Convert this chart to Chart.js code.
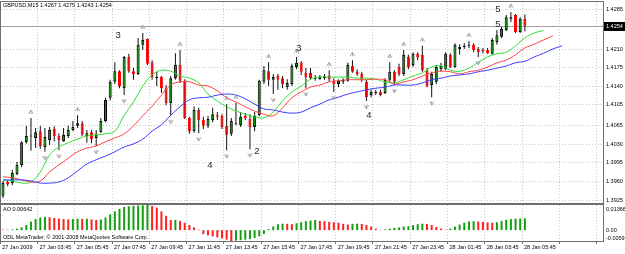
<!DOCTYPE html>
<html>
<head>
<meta charset="utf-8">
<script src="https://cdn.jsdelivr.net/npm/chart.js@4/dist/chart.umd.min.js"></script>
<style>
  html, body { margin: 0; padding: 0; background: #fff; }
  #wrap { position: relative; width: 625px; height: 254px; overflow: hidden; font-family: 'Liberation Sans', Arial, sans-serif; }
  canvas { position: absolute; left: 0; }
  #main { top: 0; }
  #ao { top: 204px; }
  .txt { position: absolute; font-size: 5.5px; line-height: 1; color: #000; white-space: nowrap; z-index: 2; }
</style>
</head>
<body>
<div id="wrap">
  <canvas id="main" width="625" height="204"></canvas>
  <canvas id="ao" width="625" height="50"></canvas>
  <div class="txt" id="title" style="left:3px;top:3px"></div>
  <div class="txt" id="aoLabel" style="left:3px;top:207px"></div>
  <div class="txt" style="left:3px;top:235px">ODL MetaTrader, © 2001-2008 MetaQuotes Software Corp.</div>
</div>
<script>
// GBPUSD M15, 113 bars
const open = [1.3933,1.3959,1.3957,1.3974,1.3991,1.4034,1.4045,1.4042,1.4055,1.4025,
  1.4038,1.4059,1.4046,1.4036,1.4046,1.4057,1.4065,1.4070,1.4046,1.4053,
  1.4042,1.4053,1.4074,1.4118,1.4148,1.4168,1.4136,1.4195,1.4168,1.4163,
  1.4218,1.4229,1.4185,1.4155,1.4157,1.4136,1.4108,1.4155,1.4180,1.4150,
  1.4080,1.4055,1.4095,1.4076,1.4065,1.4076,1.4085,1.4084,1.4065,1.4050,
  1.4068,1.4066,1.4084,1.4078,1.4063,1.4085,1.4148,1.4168,1.4152,1.4159,
  1.4155,1.4138,1.4144,1.4176,1.4184,1.4165,1.4165,1.4153,1.4153,1.4155,
  1.4159,1.4150,1.4144,1.4148,1.4150,1.4178,1.4167,1.4163,1.4148,1.4123,
  1.4127,1.4129,1.4127,1.4152,1.4167,1.4176,1.4163,1.4195,1.4180,1.4201,
  1.4199,1.4170,1.4142,1.4148,1.4172,1.4172,1.4199,1.4176,1.4210,1.4214,
  1.4216,1.4218,1.4210,1.4208,1.4208,1.4201,1.4223,1.4233,1.4246,1.4267,
  1.4274,1.4242,1.4267];
const high = [1.3961,1.3963,1.3982,1.3997,1.4036,1.4065,1.4080,1.4061,1.4065,1.4061,
  1.4063,1.4064,1.4051,1.4061,1.4065,1.4074,1.4085,1.4074,1.4057,1.4057,
  1.4057,1.4080,1.4118,1.4152,1.4185,1.4170,1.4197,1.4201,1.4174,1.4231,
  1.4240,1.4230,1.4189,1.4167,1.4159,1.4142,1.4159,1.4202,1.4208,1.4153,
  1.4082,1.4102,1.4099,1.4082,1.4084,1.4099,1.4091,1.4087,1.4106,1.4080,
  1.4108,1.4091,1.4089,1.4087,1.4091,1.4152,1.4178,1.4185,1.4163,1.4163,
  1.4159,1.4153,1.4182,1.4195,1.4187,1.4174,1.4174,1.4161,1.4161,1.4163,
  1.4170,1.4155,1.4153,1.4155,1.4184,1.4189,1.4172,1.4167,1.4152,1.4133,
  1.4133,1.4133,1.4155,1.4185,1.4170,1.4182,1.4208,1.4199,1.4204,1.4204,
  1.4216,1.4174,1.4167,1.4180,1.4184,1.4204,1.4202,1.4221,1.4219,1.4221,
  1.4225,1.4221,1.4214,1.4212,1.4212,1.4231,1.4246,1.4252,1.4274,1.4280,
  1.4276,1.4270,1.4275];
const low = [1.3929,1.3951,1.3953,1.3972,1.3987,1.4031,1.4018,1.4023,1.4022,1.4016,
  1.4029,1.4036,1.4019,1.4035,1.4042,1.4055,1.4061,1.4046,1.4033,1.4032,
  1.4027,1.4052,1.4072,1.4113,1.4144,1.4136,1.4123,1.4165,1.4152,1.4161,
  1.4208,1.4180,1.4152,1.4140,1.4127,1.4104,1.4084,1.4152,1.4146,1.4078,
  1.4050,1.4052,1.4051,1.4059,1.4061,1.4072,1.4076,1.4059,1.4019,1.4046,
  1.4066,1.4063,1.4076,1.4021,1.4055,1.4083,1.4144,1.4140,1.4125,1.4133,
  1.4136,1.4133,1.4140,1.4172,1.4161,1.4136,1.4152,1.4150,1.4152,1.4152,
  1.4148,1.4129,1.4138,1.4144,1.4148,1.4165,1.4159,1.4148,1.4112,1.4119,
  1.4123,1.4121,1.4125,1.4148,1.4142,1.4159,1.4159,1.4172,1.4176,1.4189,
  1.4167,1.4138,1.4119,1.4144,1.4168,1.4170,1.4174,1.4174,1.4199,1.4210,
  1.4212,1.4204,1.4195,1.4202,1.4201,1.4199,1.4218,1.4231,1.4244,1.4261,
  1.4240,1.4240,1.4243];
const close = [1.3957,1.3955,1.3976,1.3991,1.4034,1.4046,1.4047,1.4053,1.4027,1.4044,
  1.4057,1.4046,1.4038,1.4048,1.4057,1.4063,1.4070,1.4048,1.4051,1.4040,
  1.4050,1.4074,1.4114,1.4148,1.4168,1.4140,1.4195,1.4168,1.4163,1.4218,
  1.4227,1.4182,1.4157,1.4157,1.4136,1.4108,1.4155,1.4180,1.4150,1.4080,
  1.4055,1.4095,1.4076,1.4065,1.4078,1.4087,1.4082,1.4063,1.4048,1.4074,
  1.4070,1.4082,1.4080,1.4063,1.4084,1.4150,1.4170,1.4152,1.4157,1.4152,
  1.4144,1.4146,1.4178,1.4184,1.4167,1.4157,1.4155,1.4155,1.4157,1.4157,
  1.4153,1.4144,1.4150,1.4152,1.4180,1.4167,1.4163,1.4152,1.4119,1.4129,
  1.4129,1.4123,1.4152,1.4167,1.4148,1.4163,1.4199,1.4176,1.4201,1.4195,
  1.4170,1.4140,1.4163,1.4176,1.4178,1.4201,1.4176,1.4218,1.4214,1.4216,
  1.4218,1.4208,1.4204,1.4206,1.4202,1.4227,1.4236,1.4248,1.4270,1.4270,
  1.4242,1.4267,1.4254];

// Alligator lines, read every 2nd bar (they run past the last bar)
const lips = [1.3963,1.3961,1.3957,1.3959,1.3978,1.4010,1.4025,1.4033,1.4040,1.4046,
  1.4048,1.4050,1.4055,1.4085,1.4110,1.4140,1.4161,1.4170,1.4168,1.4159,
  1.4155,1.4146,1.4125,1.4112,1.4101,1.4093,1.4087,1.4082,1.4080,1.4091,
  1.4112,1.4129,1.4140,1.4153,1.4157,1.4157,1.4157,1.4157,1.4155,1.4155,
  1.4153,1.4148,1.4146,1.4152,1.4159,1.4165,1.4176,1.4178,1.4170,1.4168,
  1.4174,1.4185,1.4195,1.4201,1.4204,1.4216,1.4231,1.4240,1.4245];
const teeth = [1.3969,1.3967,1.3963,1.3959,1.3961,1.3978,1.3991,1.4004,1.4016,1.4023,
  1.4027,1.4035,1.4042,1.4050,1.4065,1.4084,1.4102,1.4123,1.4142,1.4148,
  1.4148,1.4142,1.4140,1.4131,1.4118,1.4110,1.4101,1.4093,1.4087,1.4084,
  1.4099,1.4118,1.4129,1.4138,1.4142,1.4148,1.4150,1.4152,1.4152,1.4152,
  1.4153,1.4152,1.4144,1.4148,1.4152,1.4159,1.4165,1.4168,1.4167,1.4163,
  1.4167,1.4170,1.4176,1.4184,1.4189,1.4199,1.4212,1.4219,1.4227,1.4235];
const jaw = [1.3963,1.3963,1.3963,1.3961,1.3957,1.3957,1.3959,1.3967,1.3980,1.3993,
  1.4001,1.4008,1.4016,1.4025,1.4031,1.4040,1.4055,1.4067,1.4085,1.4101,
  1.4114,1.4118,1.4119,1.4123,1.4125,1.4123,1.4116,1.4106,1.4097,1.4095,
  1.4091,1.4089,1.4091,1.4099,1.4106,1.4114,1.4119,1.4125,1.4129,1.4133,
  1.4136,1.4138,1.4142,1.4142,1.4142,1.4146,1.4152,1.4155,1.4159,1.4161,
  1.4163,1.4167,1.4170,1.4174,1.4178,1.4184,1.4187,1.4195,1.4202,1.4210,
  1.4216];
const lineStep = 2;

// Awesome Oscillator
const ao = [0.0003,0.0002,0.0004,0.0008,0.0015,0.0028,0.0046,0.0060,0.0068,0.0072,
  0.0070,0.0066,0.0063,0.0060,0.0058,0.0060,0.0062,0.0061,0.0062,0.0058,
  0.0055,0.0058,0.0069,0.0086,0.0102,0.0116,0.0126,0.0130,0.0132,0.0134,
  0.0135,0.01366,0.0132,0.0122,0.0102,0.0078,0.0055,0.0056,0.0050,0.0040,
  0.0028,0.0015,0.0003,-0.0022,-0.0029,-0.0034,-0.0039,-0.0045,-0.0052,-0.00592,
  -0.0057,-0.0055,-0.0052,-0.0049,-0.0043,-0.0034,-0.0021,0.0006,0.0020,0.0032,
  0.0035,0.0034,0.0032,0.0037,0.0043,0.0049,0.0052,0.0055,0.0050,0.0049,
  0.0045,0.0043,0.0040,0.0034,0.0030,0.0034,0.0035,0.0034,0.0028,0.0019,
  0.0008,0.0002,0.0004,0.0008,0.0012,0.0015,0.0019,0.0021,0.0027,0.0032,
  0.0035,0.0034,0.0028,0.0017,0.0008,0.0002,0.0008,0.0019,0.0030,0.0040,
  0.0047,0.0049,0.0047,0.0045,0.0042,0.0040,0.0043,0.0050,0.0056,0.0060,
  0.0062,0.0063,0.00642];

const fractalUp = [6, 16, 30, 38, 48, 50, 57, 63, 70, 75, 83, 86, 90, 100, 109];
const fractalDown = [9, 12, 20, 26, 36, 42, 48, 53, 58, 65, 71, 78, 84, 92, 102];

const waveText = ['3', '4', '2', '3', '4', '5', '5'];
const waveBar = [24.7, 44.4, 54.5, 63.5, 78.5, 106.2, 106.2];
const wavePrice = [1.4235, 1.3991, 1.4016, 1.4212, 1.4085, 1.4284, 1.4257];

const timeLabels = ['27 Jan 2009', '27 Jan 03:45', '27 Jan 05:45', '27 Jan 07:45', '27 Jan 09:45',
  '27 Jan 11:45', '27 Jan 13:45', '27 Jan 15:45', '27 Jan 17:45', '27 Jan 19:45', '27 Jan 21:45',
  '27 Jan 23:45', '28 Jan 01:45', '28 Jan 03:45', '28 Jan 05:45'];
const yTickLabels = ['1.4285', '1.4210', '1.4175', '1.4140', '1.4105', '1.4065', '1.4030', '1.3995', '1.3960', '1.3925'];
const aoTickValues = [0.01366, 0, -0.00592];
const aoTickLabels = ['0.01366', '0.00', '-0.00592'];

const FONT = "'Liberation Sans', Arial, sans-serif";
const GRID = '#c8c8c8';
const X_MIN = -0.43, X_MAX = 128.77;
const Y_MIN = 1.39194, Y_MAX = 1.42987;
const gridBars = Array.from({ length: 17 }, (_, j) => j * 8 - 0.6);

const last = close.length - 1;
document.getElementById('title').textContent =
  `GBPUSD,M15  ${open[last].toFixed(4)} ${high[last].toFixed(4)} ${low[last].toFixed(4)} ${close[last].toFixed(4)}`;
document.getElementById('aoLabel').textContent = `AO ${ao[last].toFixed(5)}`;

const up = close.map((c, i) => c >= open[i]);
const wicks = high.map((h, i) => ({ x: i, y: [low[i], h] }));
const bodies = open.map((o, i) => ({ x: i, y: [o, close[i]] }));
const linePts = arr => arr.map((v, i) => ({ x: i * lineStep, y: v }));

// fractal arrow: chevron with a short stem
function drawArrow(ctx, x, y, isUp) {
  const d = isUp ? 1 : -1;
  ctx.beginPath();
  ctx.moveTo(x - 2.2, y + 1.8 * d);
  ctx.lineTo(x, y - 2 * d);
  ctx.lineTo(x + 2.2, y + 1.8 * d);
  ctx.moveTo(x, y - 1 * d);
  ctx.lineTo(x, y + 2 * d);
  ctx.stroke();
}

function frame(ctx, a) {
  ctx.save();
  ctx.strokeStyle = '#6e6e6e';
  ctx.lineWidth = 1;
  ctx.strokeRect(a.left - 0.5, a.top - 0.5, a.right - a.left + 1, a.bottom - a.top + 1);
  ctx.restore();
}

const mainOverlay = {
  id: 'mainOverlay',
  beforeDatasetsDraw(chart) {
    const { ctx, chartArea: a, scales: { y } } = chart;
    const py = Math.round(y.getPixelForValue(close[last])) + 0.5;
    ctx.save();
    ctx.strokeStyle = '#a0a0a0';
    ctx.lineWidth = 1;
    ctx.beginPath();
    ctx.moveTo(a.left, py);
    ctx.lineTo(a.right, py);
    ctx.stroke();
    ctx.restore();
  },
  afterDatasetsDraw(chart) {
    const { ctx, scales: { x, y } } = chart;
    ctx.save();
    ctx.strokeStyle = '#a6a6a6';
    ctx.lineWidth = 1;
    fractalUp.forEach(i => drawArrow(ctx, x.getPixelForValue(i), y.getPixelForValue(high[i]) - 6, true));
    fractalDown.forEach(i => drawArrow(ctx, x.getPixelForValue(i), y.getPixelForValue(low[i]) + 6, false));
    ctx.fillStyle = '#2a2a2a';
    ctx.font = '9.5px ' + FONT;
    ctx.textAlign = 'center';
    ctx.textBaseline = 'middle';
    waveText.forEach((t, i) => ctx.fillText(t, x.getPixelForValue(waveBar[i]), y.getPixelForValue(wavePrice[i])));
    ctx.restore();
  },
  afterDraw(chart) {
    const { ctx, chartArea: a, scales: { y } } = chart;
    frame(ctx, a);
    const py = Math.round(y.getPixelForValue(close[last]));
    ctx.save();
    ctx.fillStyle = '#000';
    ctx.fillRect(a.right + 1, py - 4, 21, 9);
    ctx.fillStyle = '#fff';
    ctx.font = '5.5px ' + FONT;
    ctx.textAlign = 'left';
    ctx.textBaseline = 'middle';
    ctx.fillText(close[last].toFixed(4), a.right + 3, py + 0.5);
    ctx.restore();
  }
};

const aoOverlay = {
  id: 'aoOverlay',
  afterDraw(chart) {
    const { ctx, chartArea: a, scales: { y } } = chart;
    frame(ctx, a);
    ctx.save();
    ctx.fillStyle = '#000';
    ctx.font = '5.5px ' + FONT;
    ctx.textAlign = 'left';
    ctx.textBaseline = 'middle';
    aoTickValues.forEach((v, i) => {
      const py = Math.min(Math.max(y.getPixelForValue(v), a.top + 4), a.bottom - 3);
      ctx.fillText(aoTickLabels[i], a.right + 3, py);
    });
    ctx.restore();
  }
};

const xGridOnly = {
  type: 'linear', min: X_MIN, max: X_MAX, offset: false,
  afterBuildTicks: s => { s.ticks = gridBars.map(v => ({ value: v })); }
};

new Chart(document.getElementById('main'), {
  type: 'bar',
  data: {
    datasets: [
      { type: 'line', data: linePts(jaw), borderColor: '#3a3aff', borderWidth: 1, pointRadius: 0, tension: 0.4, order: 1 },
      { type: 'line', data: linePts(teeth), borderColor: '#ff4040', borderWidth: 1, pointRadius: 0, tension: 0.4, order: 1 },
      { type: 'line', data: linePts(lips), borderColor: '#2ee02e', borderWidth: 1, pointRadius: 0, tension: 0.4, order: 1 },
      {
        data: bodies, grouped: false, barThickness: 3, minBarLength: 1, borderSkipped: false, inflateAmount: 0,
        backgroundColor: up.map(u => u ? '#00a800' : '#ff0000'),
        borderColor: up.map(u => u ? '#000' : '#ff0000'),
        borderWidth: 1, order: 2
      },
      { data: wicks, grouped: false, barThickness: 1, inflateAmount: 0, backgroundColor: '#111', order: 3 }
    ]
  },
  options: {
    responsive: false,
    animation: false,
    events: [],
    layout: { padding: { left: 1, top: 2, right: 0, bottom: 1 } },
    plugins: { legend: { display: false }, tooltip: { enabled: false } },
    scales: {
      x: {
        ...xGridOnly,
        grid: { offset: false, color: GRID, drawTicks: false },
        border: { display: false, dash: [1, 2] },
        ticks: { display: false }
      },
      y: {
        position: 'right', min: Y_MIN, max: Y_MAX,
        grid: { color: GRID, drawTicks: false },
        border: { display: false, dash: [1, 2] },
        ticks: {
          autoSkip: false, padding: 3, color: '#000',
          font: { size: 5.5, family: FONT },
          callback: (v, i) => yTickLabels[i]
        },
        afterBuildTicks: s => { s.ticks = yTickLabels.map(t => ({ value: parseFloat(t) })); },
        afterFit: s => { s.width = 22; s.paddingTop = 0; s.paddingBottom = 0; }
      }
    }
  },
  plugins: [mainOverlay]
});

new Chart(document.getElementById('ao'), {
  type: 'bar',
  data: {
    datasets: [{
      data: ao.map((v, i) => ({ x: i, y: v })),
      grouped: false, barThickness: 2, inflateAmount: 0,
      backgroundColor: ao.map((v, i) => (i > 0 && v > ao[i - 1]) ? '#12a012' : '#ff2020')
    }]
  },
  options: {
    responsive: false,
    animation: false,
    events: [],
    layout: { padding: { left: 1, top: 1, right: 0, bottom: 0 } },
    plugins: { legend: { display: false }, tooltip: { enabled: false } },
    scales: {
      x: {
        ...xGridOnly,
        grid: { offset: false, color: GRID, drawTicks: true, tickLength: 3, tickColor: '#777' },
        border: { display: false, dash: [1, 2] },
        ticks: {
          autoSkip: false, maxRotation: 0, align: 'start', labelOffset: 2, padding: 0,
          color: '#000', font: { size: 5.5, family: FONT },
          callback: (v, i) => timeLabels[i] || ''
        },
        afterFit: s => { s.height = 13; s.paddingLeft = 0; s.paddingRight = 0; }
      },
      y: {
        position: 'right', min: aoTickValues[2], max: aoTickValues[0],
        grid: { display: false },
        border: { display: false },
        ticks: { display: false },
        afterFit: s => { s.width = 22; s.paddingTop = 0; s.paddingBottom = 0; }
      }
    }
  },
  plugins: [aoOverlay]
});
</script>
</body>
</html>
